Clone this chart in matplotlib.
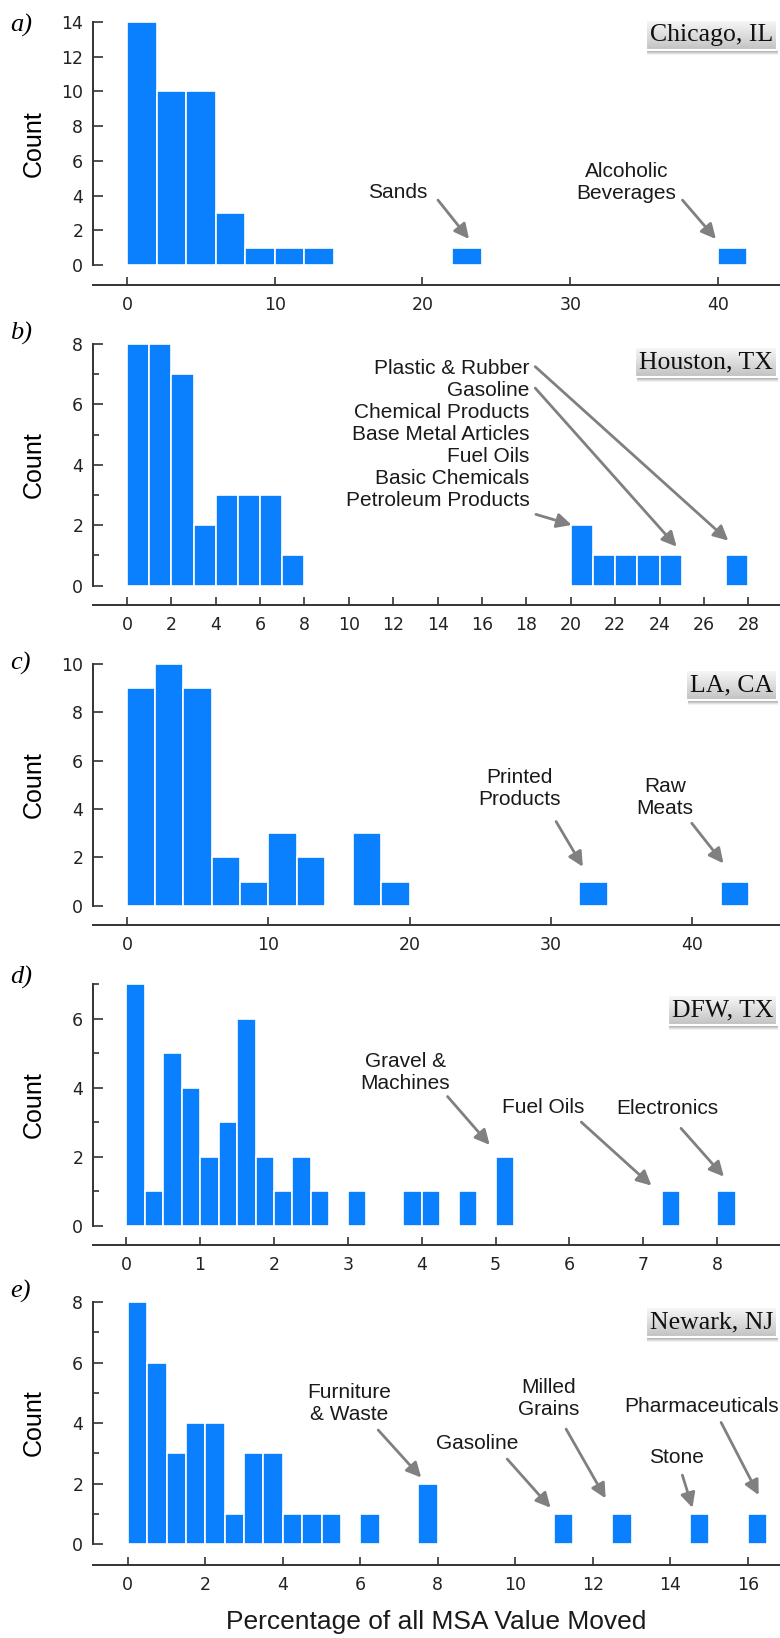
import matplotlib
matplotlib.use('Agg')
import matplotlib.pyplot as plt
import numpy as np
from matplotlib.patches import Rectangle
from matplotlib.ticker import MultipleLocator

# histogram data: left bin edge and count, per MSA
chicago_bins = [0, 2, 4, 6, 8, 10, 12, 22, 40]
chicago_counts = [14, 10, 10, 3, 1, 1, 1, 1, 1]

houston_bins = [0, 1, 2, 3, 4, 5, 6, 7, 20, 21, 22, 23, 24, 27]
houston_counts = [8, 8, 7, 2, 3, 3, 3, 1, 2, 1, 1, 1, 1, 1]

la_bins = [0, 2, 4, 6, 8, 10, 12, 16, 18, 32, 42]
la_counts = [9, 10, 9, 2, 1, 3, 2, 3, 1, 1, 1]

dfw_bins = [0, 0.25, 0.5, 0.75, 1.0, 1.25, 1.5, 1.75, 2.0, 2.25, 2.5, 3.0,
            3.75, 4.0, 4.5, 5.0, 7.25, 8.0]
dfw_counts = [7, 1, 5, 4, 2, 3, 6, 2, 1, 2, 1, 1, 1, 1, 1, 2, 1, 1]

newark_bins = [0, 0.5, 1, 1.5, 2, 2.5, 3, 3.5, 4, 4.5, 5, 6, 7.5, 11, 12.5, 14.5, 16]
newark_counts = [8, 6, 3, 4, 4, 1, 3, 3, 1, 1, 1, 1, 2, 1, 1, 1, 1]

houston_labels = ["Plastic & Rubber", "Gasoline", "Chemical Products",
                  "Base Metal Articles", "Fuel Oils", "Basic Chemicals",
                  "Petroleum Products"]

W, H = 780, 1638
BLUE = '#0a80ff'
AXC = '#333333'
ARROW = '#808080'
SANS = 'Liberation Sans'
SERIF = 'Liberation Serif'


def fx(px):
    return px / W


def fy(py):
    return 1 - py / H


panels = [
    dict(city='Chicago, IL', letter='a)', bins=chicago_bins, counts=chicago_counts, width=2,
         top=22, bottom=285, xlim=(-2.3, 44.2), ylim=(-1.15, 14), xstep=10, ymax=14,
         yminor=False, letter_y=25, box_y=35,
         texts=[('Sands', (18.3, 4.15), 'center'),
                ('Alcoholic\nBeverages', (33.8, 4.78), 'center')],
         arrows=[((21.05, 3.74), (23.15, 1.5)), ((37.6, 3.74), (39.86, 1.5))]),
    dict(city='Houston, TX', letter='b)', bins=houston_bins, counts=houston_counts, width=1,
         top=344, bottom=605, xlim=(-1.53, 29.43), ylim=(-0.64, 8), xstep=2, ymax=8,
         yminor=True, letter_y=333, box_y=362,
         texts=[('\n'.join(houston_labels), (18.13, 4.99), 'right')],
         arrows=[((18.4, 7.25), (27.1, 1.49)), ((18.4, 6.54), (24.77, 1.29)),
                 ((18.43, 2.36), (20.04, 2.01))]),
    dict(city='LA, CA', letter='c)', bins=la_bins, counts=la_counts, width=2,
         top=664, bottom=925, xlim=(-2.4, 46.2), ylim=(-0.8, 10), xstep=10, ymax=10,
         yminor=False, letter_y=663, box_y=685,
         texts=[('Printed\nProducts', (27.77, 4.83), 'center'),
                ('Raw\nMeats', (38.07, 4.46), 'center')],
         arrows=[((30.36, 3.48), (32.25, 1.61)), ((39.96, 3.41), (42.2, 1.75))]),
    dict(city='DFW, TX', letter='d)', bins=dfw_bins, counts=dfw_counts, width=0.25,
         top=984, bottom=1245, xlim=(-0.45, 8.85), ylim=(-0.56, 7), xstep=1, ymax=7,
         yminor=True, letter_y=977, box_y=1010,
         texts=[('Gravel &\nMachines', (3.78, 4.43), 'center'),
                ('Fuel Oils', (5.65, 3.42), 'center'),
                ('Electronics', (7.32, 3.38), 'center')],
         arrows=[((4.35, 3.74), (4.92, 2.34)), ((6.16, 3.0), (7.11, 1.16)),
                 ((7.51, 2.82), (8.09, 1.42))]),
    dict(city='Newark, NJ', letter='e)', bins=newark_bins, counts=newark_counts, width=0.5,
         top=1302, bottom=1565, xlim=(-0.9, 16.83), ylim=(-0.69, 8), xstep=2, ymax=8,
         yminor=True, letter_y=1291, box_y=1322,
         texts=[('Furniture\n& Waste', (5.71, 4.66), 'center'),
                ('Gasoline', (9.01, 3.33), 'center'),
                ('Milled\nGrains', (10.85, 4.8), 'center'),
                ('Stone', (14.16, 2.85), 'center'),
                ('Pharmaceuticals', (14.81, 4.56), 'center')],
         arrows=[((6.46, 3.77), (7.57, 2.2)), ((9.79, 2.81), (10.91, 1.2)),
                 ((11.31, 3.8), (12.33, 1.51)), ((14.31, 2.28), (14.57, 1.2)),
                 ((15.31, 4.02), (16.28, 1.62))]),
]

fig = plt.figure(figsize=(W / 100, H / 100), dpi=100)
city_texts = []

for p in panels:
    ax = fig.add_axes([fx(93), fy(p['bottom']), fx(780) - fx(93), (p['bottom'] - p['top']) / H])
    ax.bar(p['bins'], p['counts'], width=p['width'], align='edge', color=BLUE,
           edgecolor='white', linewidth=1.2, clip_on=False)
    ax.set_xlim(*p['xlim'])
    ax.set_ylim(*p['ylim'])

    for s in ['top', 'right']:
        ax.spines[s].set_visible(False)
    for s in ['left', 'bottom']:
        ax.spines[s].set_color(AXC)
        ax.spines[s].set_linewidth(1.4)
    ax.spines['left'].set_bounds(0, p['ymax'])

    ax.xaxis.set_major_locator(MultipleLocator(p['xstep']))
    ax.set_xticks([t for t in ax.get_xticks() if 0 <= t <= p['xlim'][1]])
    ax.set_yticks(range(0, p['ymax'] + 1, 2))
    if p['yminor']:
        ax.set_yticks(range(1, p['ymax'] + 1, 2), minor=True)
    ax.tick_params(axis='both', which='both', direction='in', color=AXC, width=1.2,
                   labelcolor='#222222', labelsize=12.5)
    ax.tick_params(axis='y', which='major', length=7, pad=7)
    ax.tick_params(axis='y', which='minor', length=4)
    ax.tick_params(axis='x', which='major', length=6, pad=8)
    for lab in ax.get_xticklabels() + ax.get_yticklabels():
        lab.set_family('DejaVu Sans')

    ax.text(-0.0859, p['ymax'] / 2, 'Count', transform=ax.get_yaxis_transform(),
            rotation=90, ha='center', va='center', fontsize=18, family=SANS)

    for txt, (tx, ty), ha in p['texts']:
        ax.text(tx, ty, txt, ha=ha, va='center', multialignment=ha, fontsize=15,
                family=SANS, color='#1a1a1a', linespacing=1.2)
    for start, tip in p['arrows']:
        ax.annotate('', xy=tip, xytext=start,
                    arrowprops=dict(arrowstyle='-|>', color=ARROW, lw=2,
                                    mutation_scale=22, shrinkA=0, shrinkB=0))

    fig.text(fx(10), fy(p['letter_y']), p['letter'], ha='left', va='center',
             fontsize=19, family=SERIF, style='italic')

    t = fig.text(fx(773), fy(p['box_y']), p['city'], ha='right', va='center',
                 fontsize=18.5, family=SERIF, color='#111111', zorder=10,
                 bbox=dict(boxstyle='square,pad=0.15', fc='#dcdcdc', ec='none'))
    city_texts.append(t)

# gradient boxes with a soft shadow behind the city names
fig.canvas.draw()
grad = np.linspace(0.97, 0.76, 64).reshape(-1, 1)
for t in city_texts:
    bb = t.get_bbox_patch().get_window_extent()
    t.set_bbox(None)
    x0, y0, w, h = bb.x0 / W, bb.y0 / H, bb.width / W, bb.height / H
    for k, a in [(5, 0.08), (4, 0.12), (3, 0.16), (2, 0.2)]:
        fig.patches.append(Rectangle((x0 + 1.5 / W, y0 - k / H), w, h, transform=fig.transFigure,
                                     fc='#606060', ec='none', alpha=a, zorder=1))
    gax = fig.add_axes([x0, y0, w, h], zorder=2)
    gax.imshow(grad, cmap='gray', vmin=0, vmax=1, aspect='auto', extent=(0, 1, 0, 1))
    gax.set_axis_off()
    fig.patches.append(Rectangle((x0, y0), w, h, transform=fig.transFigure,
                                 fc='none', ec='white', lw=1.5, zorder=3))

fig.text(fx(436), fy(1622), 'Percentage of all MSA Value Moved', ha='center', va='center',
         fontsize=19, family=SANS, color='#1a1a1a')

fig.savefig('out.png', dpi=100)
